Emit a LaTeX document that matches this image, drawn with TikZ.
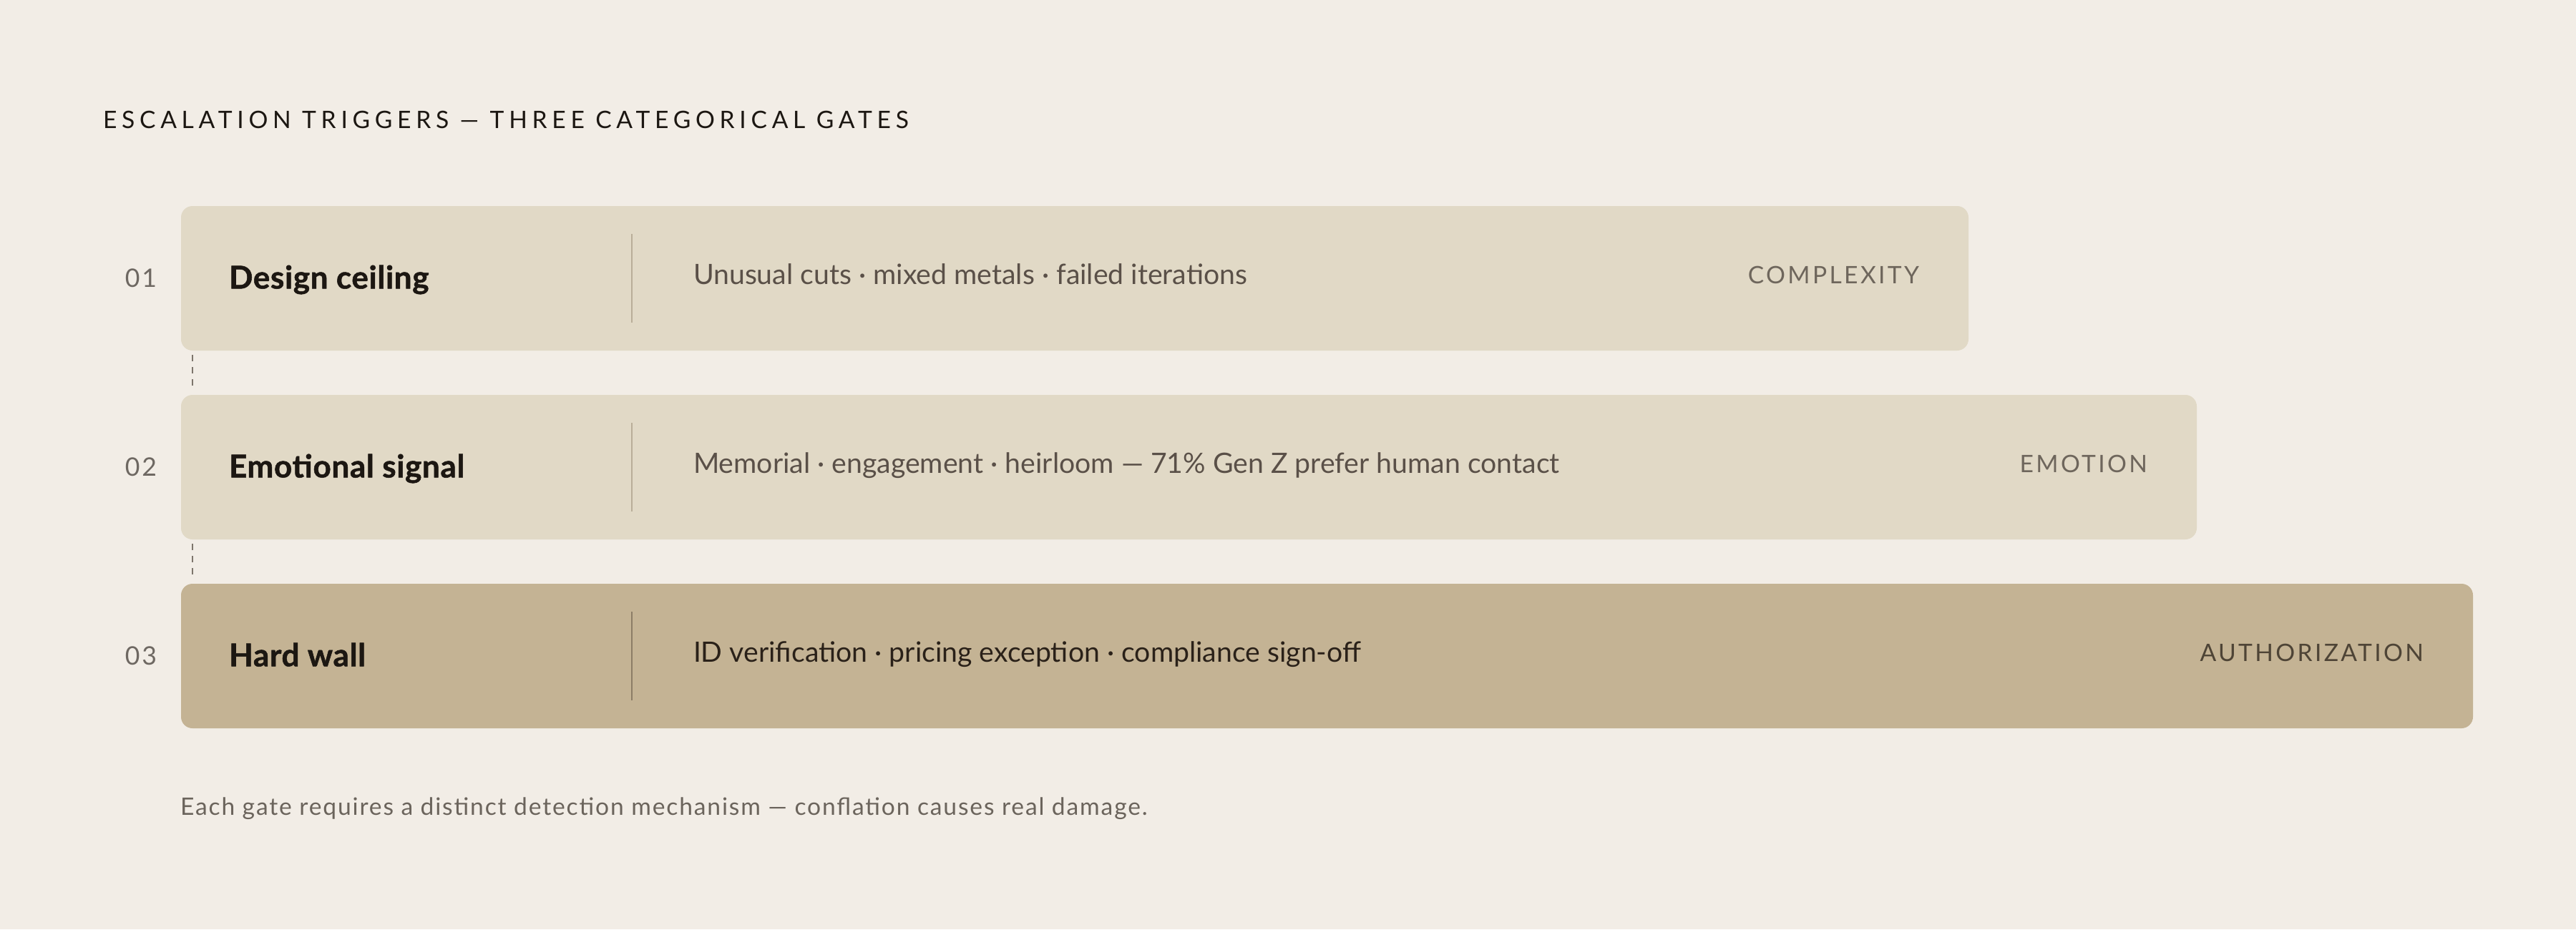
\documentclass[tikz,border=0pt]{standalone}
\usepackage{fontspec}
\setmainfont{Lato}
\newfontfamily\headfont[LetterSpace=20]{Lato}
\newfontfamily\tagfont[LetterSpace=10]{Lato}
\newfontfamily\notefont[LetterSpace=5.5]{Lato}
\newfontfamily\numfont[LetterSpace=8]{Lato}
\newfontfamily\namefont[LetterSpace=1.5, FakeBold=1.2]{Lato}
\usepackage{tikz}
\usetikzlibrary{positioning}

\definecolor{paper}{HTML}{F2EDE6}
\definecolor{gatelight}{HTML}{E1D9C6}
\definecolor{gatedark}{HTML}{C4B394}
\definecolor{ink}{HTML}{1C1712}
\definecolor{detailgrey}{HTML}{5A5048}
\definecolor{detaildark}{HTML}{2A2119}
\definecolor{taggrey}{HTML}{6E665C}
\definecolor{tagdark}{HTML}{4E4436}
\definecolor{numgrey}{HTML}{6E6862}
\definecolor{rulelight}{HTML}{B9AE99}
\definecolor{ruledark}{HTML}{8C7D66}
\definecolor{linkgrey}{HTML}{7D756C}
\definecolor{notegrey}{HTML}{6B645C}

\begin{document}
\begin{tikzpicture}[inner sep=0pt, outer sep=0pt]
\tikzstyle{gate} = [rectangle, rounded corners=4pt, minimum height=50.5pt, anchor=north west]
\tikzstyle{lightgate} = [gate, fill=gatelight]
\tikzstyle{darkgate} = [gate, fill=gatedark]
\tikzstyle{num} = [font=\numfont\fontsize{8.9}{10}\selectfont, text=numgrey]
\tikzstyle{gatename} = [font=\namefont\fontsize{11}{12}\selectfont\bfseries, text=ink]
\tikzstyle{detail} = [font=\fontsize{9.8}{12}\selectfont, text=detailgrey]
\tikzstyle{tag} = [font=\tagfont\fontsize{8.4}{10}\selectfont, text=taggrey]
\tikzstyle{rule} = [draw=rulelight, line width=0.5pt]
\tikzstyle{link} = [draw=linkgrey, line width=0.5pt, dash pattern=on 2.25pt off 2pt]

    \fill[paper] (0,0) rectangle (900pt,-324.75pt);
    \useasboundingbox (0,0) rectangle (900pt,-324.75pt);

    \node[anchor=base west, font=\headfont\fontsize{8.4}{10}\selectfont, text=ink] (heading) at (36pt,-44.75pt) {ESCALATION TRIGGERS — THREE CATEGORICAL GATES};

    % the three gates, stacked
    \node [lightgate, minimum width=624.5pt] (ceiling) at (63.25pt,-72pt) {};
    \node [lightgate, minimum width=704.25pt, below=15.5pt of ceiling.south west, anchor=north west] (emotion) {};
    \node [darkgate, minimum width=800.75pt, below=15.5pt of emotion.south west, anchor=north west] (wall) {};

    \node [num, left=8.5pt of ceiling, anchor=base east, yshift=-3.1pt] (ceilingnum) {01};
    \node [num, left=8.5pt of emotion, anchor=base east, yshift=-3.1pt] (emotionnum) {02};
    \node [num, left=8.5pt of wall, anchor=base east, yshift=-3.1pt] (wallnum) {03};

    \node [gatename, right=16.75pt of ceiling.west, anchor=base west, yshift=-3.6pt] (ceilingname) {Design ceiling};
    \node [gatename, right=16.75pt of emotion.west, anchor=base west, yshift=-3.6pt] (emotionname) {Emotional signal};
    \node [gatename, right=16.75pt of wall.west, anchor=base west, yshift=-3.6pt] (wallname) {Hard wall};

    \draw [rule] ([xshift=157.5pt,yshift=15.5pt]ceiling.west) -- ([xshift=157.5pt,yshift=-15.5pt]ceiling.west);
    \draw [rule] ([xshift=157.5pt,yshift=15.5pt]emotion.west) -- ([xshift=157.5pt,yshift=-15.5pt]emotion.west);
    \draw [rule, draw=ruledark] ([xshift=157.5pt,yshift=15.5pt]wall.west) -- ([xshift=157.5pt,yshift=-15.5pt]wall.west);

    \node [detail, right=179pt of ceiling.west, anchor=base west, yshift=-2.1pt] (ceilingdetail) {Unusual cuts · mixed metals · failed iterations};
    \node [detail, right=179pt of emotion.west, anchor=base west, yshift=-2.1pt] (emotiondetail) {Memorial · engagement · heirloom — 71\% Gen Z prefer human contact};
    \node [detail, text=detaildark, right=179pt of wall.west, anchor=base west, yshift=-2.1pt] (walldetail) {ID verification · pricing exception · compliance sign-off};

    \node [tag, left=17.25pt of ceiling.east, anchor=base east, yshift=-1.9pt] (ceilingtag) {COMPLEXITY};
    \node [tag, left=17.25pt of emotion.east, anchor=base east, yshift=-1.9pt] (emotiontag) {EMOTION};
    \node [tag, text=tagdark, left=17.25pt of wall.east, anchor=base east, yshift=-1.9pt] (walltag) {AUTHORIZATION};

    % dashed links between the gates
    \draw [link] ([xshift=4pt,yshift=-1.5pt]ceiling.south west) -- ([xshift=4pt,yshift=2pt]emotion.north west);
    \draw [link] ([xshift=4pt,yshift=-1.5pt]emotion.south west) -- ([xshift=4pt,yshift=2pt]wall.north west);

    \node[anchor=base west, font=\notefont\fontsize{8.4}{10}\selectfont, text=notegrey] (note) at (63pt,-284.75pt) {Each gate requires a distinct detection mechanism — conflation causes real damage.};

\end{tikzpicture}
\end{document}
